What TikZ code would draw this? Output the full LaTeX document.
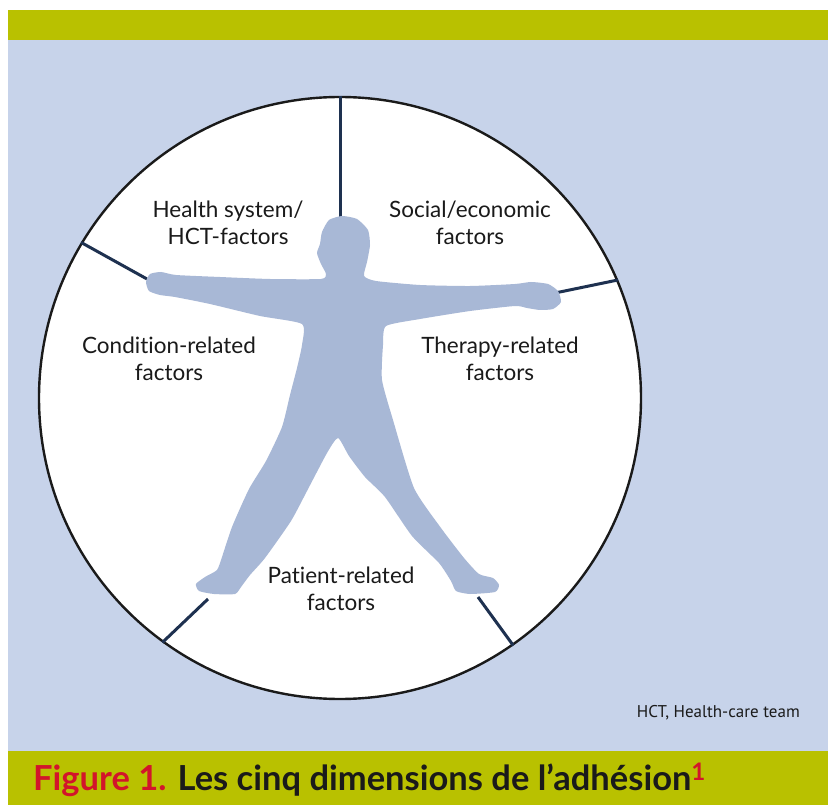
\documentclass[tikz,border=0pt]{standalone}
\usepackage{fontspec}
\setmainfont[Ligatures=NoCommon]{Lato}
\newfontfamily\notefont{PT Sans}
\definecolor{barolive}{HTML}{B9C100}
\definecolor{panelblue}{HTML}{C7D3EA}
\definecolor{figblue}{HTML}{A8B8D6}
\definecolor{spokenavy}{HTML}{1E3150}
\definecolor{ringblack}{HTML}{1A1A1A}
\definecolor{capred}{HTML}{D2152B}
\definecolor{captext}{HTML}{1A1A1A}
\begin{document}
\begin{tikzpicture}[x=1pt,y=-1pt,
  ring/.style={circle, draw=ringblack, fill=white, line width=2.4pt, minimum size=602pt, inner sep=0pt},
  spoke/.style={draw=spokenavy, line width=3pt},
  lbl/.style={font=\fontsize{22.5}{27}\selectfont, align=center, text=captext, inner sep=0pt},
  note/.style={font=\notefont\fontsize{17}{20}\selectfont, text=captext, inner sep=0pt},
  caption/.style={font=\bfseries\fontsize{34.5}{40}\selectfont, text=captext, inner sep=0pt}]
\useasboundingbox (0,0) rectangle (828,805);
% panel and bars
\fill[panelblue] (8,40) rectangle (828,751);
\fill[barolive] (8,10) rectangle (828,40);
\fill[barolive] (8,751) rectangle (828,805);
% the ring
\node[ring] (ring) at (340,398) {};
% extremities of the figure
\coordinate (head) at (340,217);
\coordinate (lhand) at (147,279);
\coordinate (rhand) at (555,293);
\coordinate (lfoot) at (208,599);
\coordinate (rfoot) at (478,597);
% spokes dividing the five sectors
\draw[spoke] (ring.90) -- (head);
\draw[spoke] (ring.149.5) -- (lhand);
\draw[spoke] (ring.23) -- (rhand);
\draw[spoke] (ring.234.3) -- (lfoot);
\draw[spoke] (ring.305) -- (rfoot);
% silhouette of the person
\fill[figblue] plot[smooth cycle, tension=0.35] coordinates {
  (342,216) (357,219) (368,230) (370,245) (367,262) (364,276)
  (376,281) (420,285) (470,286) (515,284) (531,282) (548,284)
  (558,291) (561,302) (553,309) (540,310) (527,308) (515,306)
  (470,311) (420,319) (386,326) (383,345) (382,380) (393,420)
  (414,488) (441,528) (464,558) (479,574) (493,578) (499,585)
  (495,592) (470,594) (456,591) (451,581) (439,563) (412,536)
  (385,497) (365,477) (349,456) (338,438) (327,453) (307,491)
  (291,521) (265,558) (250,575) (241,587) (235,594) (214,594)
  (199,591) (196,584) (205,577) (217,570) (222,557) (232,527)
  (249,489) (266,461) (282,427) (290,395) (297,368) (302,345)
  (302,324) (260,316) (210,304) (175,297) (160,295) (149,291)
  (146,282) (150,274) (161,272) (176,275) (220,277) (270,279)
  (321,279) (326,274) (321,264) (317,253) (320,244) (322,232)
  (329,220)};
% sector labels
\node[lbl, anchor=base] (health) at (228,245) {Health system/\\HCT-factors};
\node[lbl, anchor=base] (social) at (470,245) {Social/economic\\factors};
\node[lbl, anchor=base] (condition) at (169,380) {Condition-related\\factors};
\node[lbl, anchor=base] (therapy) at (500,380) {Therapy-related\\factors};
\node[lbl, anchor=base] (patient) at (341,610) {Patient-related\\factors};
% abbreviation note
\node[note, anchor=base east] (abbr) at (800,717) {HCT, Health-care team};
% caption
\node[caption, anchor=base west] (cap) at (33,790) {\textcolor{capred}{Figure 1.} Les cinq dimensions de l’adhésion\textsuperscript{\textcolor{capred}{1}}};
\end{tikzpicture}
\end{document}
